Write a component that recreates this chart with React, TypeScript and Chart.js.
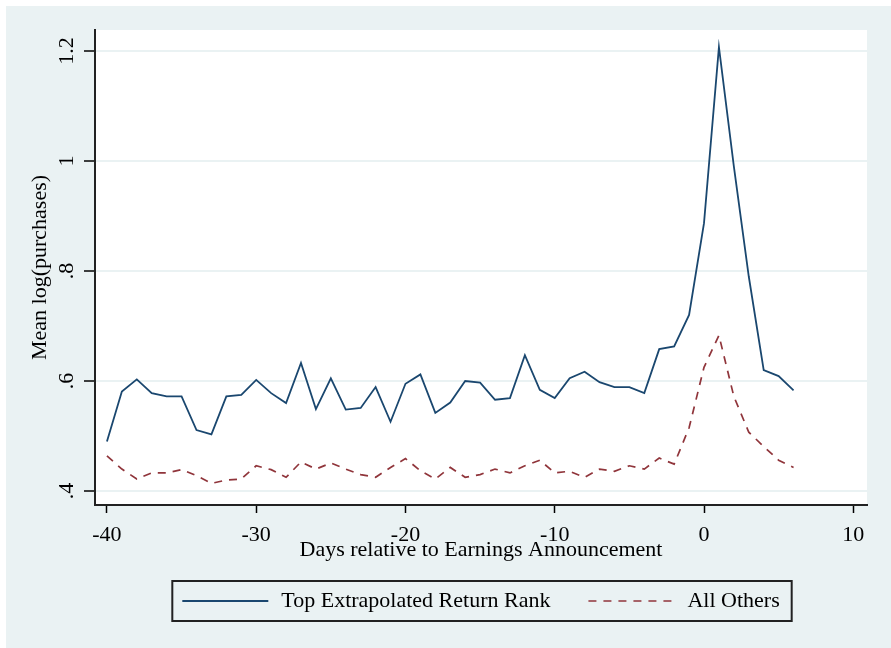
import React, { useEffect, useRef } from 'react';
import { Chart, registerables } from 'chart.js';

Chart.register(...registerables);

const days = [
  -40, -39, -38, -37, -36, -35, -34, -33, -32, -31,
  -30, -29, -28, -27, -26, -25, -24, -23, -22, -21,
  -20, -19, -18, -17, -16, -15, -14, -13, -12, -11,
  -10, -9, -8, -7, -6, -5, -4, -3, -2, -1,
  0, 1, 2, 3, 4, 5, 6,
];

const topRank = [
  0.49, 0.581, 0.603, 0.578, 0.572, 0.572, 0.511, 0.503, 0.572, 0.575,
  0.602, 0.578, 0.56, 0.633, 0.549, 0.605, 0.548, 0.551, 0.589, 0.526,
  0.595, 0.612, 0.542, 0.561, 0.6, 0.597, 0.566, 0.569, 0.647, 0.584,
  0.569, 0.605, 0.617, 0.598, 0.589, 0.589, 0.578, 0.658, 0.663, 0.72,
  0.887, 1.207, 0.99, 0.79, 0.62, 0.609, 0.583,
];

const allOthers = [
  0.464, 0.44, 0.422, 0.433, 0.433, 0.439, 0.428, 0.414, 0.42, 0.422,
  0.446, 0.439, 0.425, 0.453, 0.44, 0.451, 0.44, 0.43, 0.425, 0.443,
  0.459, 0.437, 0.422, 0.443, 0.425, 0.43, 0.44, 0.433, 0.446, 0.456,
  0.433, 0.436, 0.425, 0.44, 0.436, 0.446, 0.44, 0.46, 0.449, 0.515,
  0.625, 0.683, 0.572, 0.507, 0.481, 0.456, 0.443,
];

const xTicks = [-40, -30, -20, -10, 0, 10];
const yTicks = [0.4, 0.6, 0.8, 1, 1.2];
const yTickLabels = ['.4', '.6', '.8', '1', '1.2'];

const seriesNames = ['Top Extrapolated Return Rank', 'All Others'];
const xTitle = 'Days relative to Earnings Announcement';
const yTitle = 'Mean log(purchases)';

const FONT = '"Liberation Serif", "Times New Roman", serif';
const BG = '#eaf2f3';
const NAVY = '#1a476f';
const MAROON = '#90353b';
const SAMPLE_W = 86;

const stataPlugin = {
  id: 'stataLook',
  beforeDraw(chart: any) {
    const { ctx, chartArea: a, width, height } = chart;
    ctx.save();
    ctx.fillStyle = '#ffffff';
    ctx.fillRect(0, 0, width, height);
    ctx.fillStyle = BG;
    ctx.fillRect(6, 6, width - 6, height - 6);
    ctx.fillStyle = '#ffffff';
    ctx.fillRect(a.left, a.top, a.right - a.left, a.bottom - a.top);
    ctx.restore();
  },
  afterDraw(chart: any) {
    const { ctx } = chart;
    const ys = chart.scales.y;
    ctx.save();
    ctx.font = `22px ${FONT}`;
    ctx.fillStyle = '#000';
    ctx.textAlign = 'center';
    ctx.textBaseline = 'middle';
    yTicks.forEach((v, i) => {
      const py = ys.getPixelForValue(v);
      ctx.save();
      ctx.translate(67, py);
      ctx.rotate(-Math.PI / 2);
      ctx.fillText(yTickLabels[i], 0, 0);
      ctx.restore();
    });
    ctx.restore();

    const lg = chart.legend;
    const hb = lg && lg.legendHitBoxes;
    if (hb && hb.length) {
      const first = hb[0];
      const last = hb[hb.length - 1];
      const cy = first.top + first.height / 2;
      const left = first.left - 10;
      const right = last.left + last.width + 12;
      ctx.save();
      ctx.strokeStyle = '#222';
      ctx.lineWidth = 2;
      ctx.strokeRect(left, cy - 20, right - left, 40);
      // legend line samples, drawn with each dataset's own style
      hb.forEach((box: any, i: number) => {
        const ds = chart.data.datasets[i];
        ctx.beginPath();
        ctx.strokeStyle = ds.borderColor;
        ctx.lineWidth = ds.borderWidth;
        ctx.setLineDash(ds.borderDash || []);
        ctx.moveTo(box.left, cy);
        ctx.lineTo(box.left + SAMPLE_W, cy);
        ctx.stroke();
      });
      ctx.restore();
    }
  },
};

export default function App() {
  const canvasRef = useRef<HTMLCanvasElement | null>(null);

  useEffect(() => {
    const canvas = canvasRef.current;
    if (!canvas) return;
    const chart = new Chart(canvas, {
      type: 'line',
      data: {
        datasets: [
          {
            label: seriesNames[0],
            data: days.map((d, i) => ({ x: d, y: topRank[i] })),
            borderColor: NAVY,
            backgroundColor: NAVY,
            borderWidth: 1.8,
            pointRadius: 0,
            tension: 0,
            fill: false,
          },
          {
            label: seriesNames[1],
            data: days.map((d, i) => ({ x: d, y: allOthers[i] })),
            borderColor: MAROON,
            backgroundColor: MAROON,
            borderWidth: 1.7,
            borderDash: [8, 7],
            pointRadius: 0,
            tension: 0,
            fill: false,
          },
        ],
      },
      options: {
        responsive: false,
        animation: false,
        layout: { padding: { left: 0, top: 30, right: 24, bottom: 26 } },
        plugins: {
          tooltip: { enabled: false },
          legend: {
            display: true,
            position: 'bottom',
            fullSize: false,
            labels: {
              boxWidth: SAMPLE_W + 2,
              boxHeight: 2,
              padding: 38,
              color: '#000',
              font: { family: FONT, size: 22 },
              generateLabels: (chart: any) => {
                const items = Chart.defaults.plugins.legend.labels.generateLabels(chart);
                return items.map((it: any) => ({
                  ...it,
                  fillStyle: 'rgba(0,0,0,0)',
                  strokeStyle: 'rgba(0,0,0,0)',
                  lineWidth: 0,
                  fontColor: '#000',
                }));
              },
            },
          },
        },
        scales: {
          x: {
            type: 'linear',
            min: -40.8,
            max: 10.92,
            afterBuildTicks: (s: any) => {
              s.ticks = xTicks.map((v) => ({ value: v }));
            },
            afterFit: (s: any) => {
              s.height = 47;
            },
            ticks: {
              color: '#000',
              padding: 9,
              font: { family: FONT, size: 22 },
              callback: (v: any) => String(v),
              maxRotation: 0,
              minRotation: 0,
            },
            grid: {
              drawOnChartArea: false,
              drawTicks: true,
              tickLength: 8,
              tickColor: '#000',
              tickWidth: 1.5,
            },
            border: { display: true, color: '#222', width: 2 },
            title: {
              display: true,
              text: xTitle,
              color: '#000',
              font: { family: FONT, size: 22 },
              padding: { top: 0, bottom: -11.2 },
            },
          },
          y: {
            type: 'linear',
            min: 0.3747,
            max: 1.238,
            afterBuildTicks: (s: any) => {
              s.ticks = yTicks.map((v) => ({ value: v }));
            },
            afterFit: (s: any) => {
              s.width = 95;
            },
            ticks: { display: false },
            grid: {
              color: BG,
              lineWidth: 2,
              drawTicks: true,
              tickLength: 11,
              tickColor: '#000',
              tickWidth: 1.5,
            },
            border: { display: true, color: '#222', width: 2 },
            title: {
              display: true,
              text: yTitle,
              color: '#000',
              font: { family: FONT, size: 22 },
              padding: { top: 26.8, bottom: 0 },
            },
          },
        },
      },
      plugins: [stataPlugin],
    } as any);
    return () => chart.destroy();
  }, []);

  return (
    <div style={{ position: 'fixed', left: 0, top: 0, width: 891, height: 648 }}>
      <canvas ref={canvasRef} width={891} height={648} style={{ display: 'block' }} />
    </div>
  );
}
